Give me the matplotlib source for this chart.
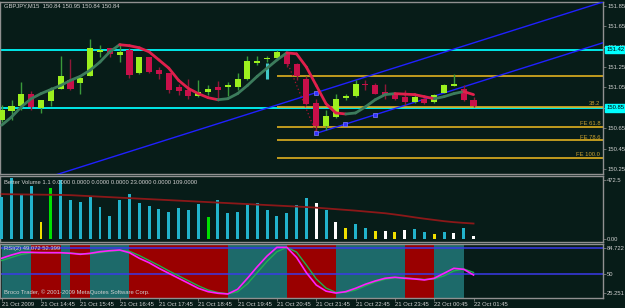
import matplotlib
matplotlib.use('Agg')
import matplotlib.pyplot as plt
import numpy as np

plt.rcParams['font.family'] = ['Liberation Sans', 'DejaVu Sans']

# ---------------- data ----------------
title_text = "GBPJPY,M15  150.84 150.95 150.84 150.84"
vol_title = "Better Volume 1.1 0.0000 0.0000 0.0000 0.0000 23.0000 0.0000 109.0000"
rsi_title = "RSI(2) 49.072 52.399"
copyright_text = "Broco Trader, \u00a9 2001-2009 MetaQuotes Software Corp."

opens = [150.73, 150.82, 150.87, 150.99, 150.85, 150.92, 151.04, 151.12, 151.09, 151.16,
         151.40, 151.44, 151.37, 151.42, 151.19, 151.35, 151.22, 151.19, 151.05, 151.03,
         150.97, 151.01, 151.05, 151.05, 151.05, 151.13, 151.29, 151.33, 151.34, 151.39,
         151.28, 151.13, 150.90, 150.67, 150.76, 150.95, 150.97, 151.08, 151.07, 151.01,
         150.99, 150.96, 150.91, 150.94, 150.91, 151.00, 151.06, 151.04, 150.93]
highs = [150.88, 150.93, 151.10, 151.02, 150.93, 151.05, 151.36, 151.33, 151.17, 151.53,
         151.47, 151.44, 151.49, 151.44, 151.35, 151.35, 151.25, 151.19, 151.08, 151.13,
         151.12, 151.07, 151.11, 151.10, 151.19, 151.36, 151.36, 151.36, 151.42, 151.40,
         151.29, 151.16, 150.94, 150.83, 150.99, 150.99, 151.12, 151.12, 151.09, 151.08,
         151.00, 151.03, 151.00, 150.97, 150.99, 151.08, 151.18, 151.07, 150.96]
lows = [150.71, 150.73, 150.83, 150.83, 150.80, 150.87, 151.04, 151.03, 150.99, 151.16,
        151.35, 151.35, 151.30, 151.14, 151.18, 151.19, 151.13, 151.00, 150.98, 150.94,
        150.96, 150.98, 150.92, 150.97, 151.03, 151.12, 151.27, 151.30, 151.32, 151.25,
        151.12, 150.88, 150.60, 150.63, 150.75, 150.93, 150.96, 151.03, 150.99, 150.94,
        150.93, 150.88, 150.90, 150.89, 150.90, 151.00, 151.06, 150.92, 150.86]
closes = [150.83, 150.87, 150.99, 150.86, 150.93, 151.04, 151.16, 151.04, 151.14, 151.44,
          151.42, 151.38, 151.40, 151.17, 151.35, 151.20, 151.18, 151.03, 151.02, 150.97,
          151.01, 151.04, 151.03, 151.07, 151.13, 151.31, 151.31, 151.33, 151.40, 151.28,
          151.16, 150.89, 150.67, 150.77, 150.94, 150.97, 151.08, 151.07, 150.99, 150.98,
          150.94, 150.91, 150.96, 150.90, 150.98, 151.07, 151.08, 150.93, 150.87]
spike_bar = 27
spike_range = [151.13, 151.29]

ma_line = [150.68, 150.76, 150.86, 150.94, 150.99, 151.03, 151.07, 151.12, 151.16, 151.22,
           151.30, 151.40, 151.47, 151.46, 151.44, 151.40, 151.32, 151.24, 151.12, 151.04,
           150.99, 150.95, 150.93, 150.94, 150.99, 151.07, 151.16, 151.24, 151.32, 151.39,
           151.38, 151.25, 151.07, 150.89, 150.80, 150.79, 150.80, 150.86, 150.93, 150.98,
           150.99, 150.985, 150.98, 150.96, 150.94, 150.96, 150.99, 151.01, 150.98]

cyan_levels = [151.42, 150.85]
cyan_labels = ["151.42", "150.85"]
fib_start = 28
fib_levels = [151.16, 150.86, 150.66, 150.53, 150.36]
fib_labels = ["", "38.2", "FE 61.8", "FE 78.6", "FE 100.0"]

upper_trend = [(32, 151.00), (61.2, 151.89)]
lower_trend = [(32, 150.60), (61.2, 151.49)]
trend_dots = [(32, 151.00), (32, 150.60), (34.9, 150.69), (38, 150.78)]
zigzag = [(29, 151.31), (32, 150.60)]

price_ticks = [151.85, 151.65, 151.45, 151.25, 151.05, 150.85, 150.65, 150.45, 150.25]

volumes = [338, 486, 351, 424, 136, 410, 472, 311, 292, 333,
           257, 182, 311, 357, 284, 263, 236, 216, 244, 228,
           281, 174, 311, 204, 214, 276, 284, 230, 182, 204,
           268, 325, 284, 229, 136, 82, 115, 87, 63, 58,
           50, 69, 74, 53, 39, 53, 47, 82, 23]
vol_types = "nnnnygnnnn" "nnnnnnnnnn" "ngnnnnnnnn" "nnwnwynnyw" "ywnnynwnw"
vol_avg = [359, 357, 356, 355, 354, 353, 352, 350, 346, 342,
           338, 334, 330, 326, 322, 318, 314, 310, 306, 302,
           298, 294, 290, 286, 282, 278, 274, 270, 266, 262,
           258, 254, 249, 243, 237, 231, 225, 218, 211, 204,
           194, 183, 171, 160, 150, 140, 132, 126, 121]
vol_ticks = [472.5, 0.0]
vol_tick_labels = ["472.5", "0.00"]

rsi = [70.9, 75.2, 78.7, 78.7, 78.2, 78.2, 78.2, 77.4, 76.1, 77.4,
       79.5, 80.8, 81.7, 78.2, 70.9, 65.1, 57.8, 51.3, 44.8, 38.3,
       31.7, 27.3, 25.2, 24.3, 30.4, 44.8, 59.9, 73.9, 85.2, 85.2,
       72.0, 52.0, 36.0, 28.0, 25.5, 27.3, 31.7, 37.0, 41.3, 44.8,
       46.1, 44.8, 43.9, 42.6, 44.8, 51.3, 57.8, 56.5, 49.1]
rsi_signal = [68, 72, 76, 78, 78.5, 78.3, 78.2, 77.8, 76.8, 76.8,
              78.4, 80.1, 81.2, 80, 74.5, 68, 61.5, 54.5, 48, 41.5,
              35, 29.5, 26.2, 24.6, 27.3, 37.6, 52.3, 67, 79.5, 85.2,
              79, 62, 44, 32, 26.3, 26.5, 29.5, 35, 40, 43.5,
              45.5, 45.4, 44.3, 43.2, 44, 48, 54.5, 57, 52.4]
rsi_zones = [(0, 3, 'up'), (3, 6, 'dn'), (6, 7, 'up'), (7, 9, 'dn'), (9, 13, 'up'),
             (13, 23, 'dn'), (23, 29, 'up'), (29, 34, 'dn'), (34, 41, 'up'),
             (41, 44, 'dn'), (44, 47, 'up')]
rsi_levels = [84.722, 50]
rsi_ticks = [84.722, 50, 25.251]
rsi_tick_labels = ["84.722", "50", "25.251"]

time_ticks = [0, 4, 8, 12, 16, 20, 24, 28, 32, 36, 40, 44, 48]
time_labels = ["21 Oct 2009", "21 Oct 14:45", "21 Oct 15:45", "21 Oct 16:45",
               "21 Oct 17:45", "21 Oct 18:45", "21 Oct 19:45", "21 Oct 20:45",
               "21 Oct 21:45", "21 Oct 22:45", "21 Oct 23:45", "22 Oct 00:45",
               "22 Oct 01:45"]

# ---------------- style ----------------
BG = '#071c18'
GRID = '#909090'
TXT = '#d0d0d0'
FS = 4.2
W, H = 625, 308

fig = plt.figure(figsize=(W / 100, H / 100), dpi=100, facecolor=BG)


def px_axes(x0, y0, x1, y1):
    return fig.add_axes([x0 / W, 1 - y1 / H, (x1 - x0) / W, (y1 - y0) / H], facecolor=BG)


ax = px_axes(0, 2, 603, 174)
axv = px_axes(0, 176, 603, 241.5)
axr = px_axes(0, 243.5, 603, 297.5)

XLIM = (-0.17, 61.17)
n = len(closes)
xs = np.arange(n)

for a in (ax, axv, axr):
    a.set_xlim(*XLIM)
    for s in a.spines.values():
        s.set_color(GRID)
        s.set_linewidth(1.0)
    a.yaxis.tick_right()
    a.tick_params(axis='y', length=2, width=0.5, pad=1, labelsize=FS,
                  labelcolor=TXT, color=GRID)
    a.tick_params(axis='x', length=0, labelbottom=False)

# ---------------- main price panel ----------------
ax.set_ylim(150.201, 151.889)
ax.set_yticks(price_ticks)
ax.set_yticklabels(["%.2f" % t for t in price_ticks])

# cyan horizontal lines
for lv in cyan_levels:
    ax.axhline(lv, color='#00e8e8', lw=1.4, zorder=2)

# fibo expansion lines
for lv, lb in zip(fib_levels, fib_labels):
    ax.hlines(lv, fib_start, XLIM[1], color='#e0b020', lw=1.2, zorder=2)
    if lb:
        ax.text(60.9, lv + 0.008, lb, ha='right', va='bottom', fontsize=FS,
                color='#c8a030', zorder=5)

# trend channel
ux = np.array([upper_trend[0][0], upper_trend[1][0]])
uy = np.array([upper_trend[0][1], upper_trend[1][1]])
slope = (uy[1] - uy[0]) / (ux[1] - ux[0])
ax.plot([0, XLIM[1]], [uy[0] + slope * (0 - ux[0]), uy[0] + slope * (XLIM[1] - ux[0])],
        color='#2020ff', lw=1.0, zorder=3)
ax.plot([lower_trend[0][0], lower_trend[1][0]], [lower_trend[0][1], lower_trend[1][1]],
        color='#2020ff', lw=1.0, zorder=3)
ax.plot([p[0] for p in trend_dots], [p[1] for p in trend_dots], 's', ms=2.2,
        mfc='#3030ff', mec='#8080ff', mew=0.5, zorder=6)
ax.plot([p[0] for p in zigzag], [p[1] for p in zigzag], ls=(0, (1, 2)),
        color='#b01030', lw=0.9, zorder=3)

# candles
o = np.array(opens); c = np.array(closes); h = np.array(highs); l = np.array(lows)
up = c >= o
wick_cols = np.where(up, '#3a9a3a', '#901838')
ax.vlines(xs, l, h, colors=wick_cols, lw=1.0, zorder=4)
body_bot = np.minimum(o, c)
body_h = np.maximum(np.abs(c - o), 0.006)
body_cols = np.where(up, '#9cf01e', '#c8104a')
ax.bar(xs, body_h, bottom=body_bot, width=0.62, color=body_cols, lw=0, zorder=5)
ax.vlines([spike_bar], spike_range[0], spike_range[1], colors='#40c8c8', lw=2.2, zorder=5)

# colored MA line
ma = np.array(ma_line)
for i in range(n - 1):
    col = '#3c7c5c' if ma[i + 1] >= ma[i] else '#e0204c'
    ax.plot([i, i + 1], [ma[i], ma[i + 1]], color=col, lw=2.0, zorder=6,
            solid_capstyle='round')

# boxed labels on the price scale
for lv, lb in zip(cyan_levels, cyan_labels):
    ax.annotate(lb, xy=(1.0, lv), xycoords=('axes fraction', 'data'),
                xytext=(2.2, 0), textcoords='offset points', ha='left', va='center',
                fontsize=FS, color='black', annotation_clip=False, zorder=10,
                bbox=dict(boxstyle='square,pad=0.2', fc='#00ffff', ec='#00ffff'))

fig.text(4 / W, 1 - 6 / H, title_text, fontsize=FS, color=TXT, va='center', ha='left')

# ---------------- volume panel ----------------
axv.set_ylim(-24.2, 504.8)
axv.set_yticks(vol_ticks)
axv.set_yticklabels(vol_tick_labels)
type_colors = {'n': '#22b4cc', 'y': '#f0e000', 'g': '#00e000', 'w': '#ffffff'}
axv.bar(xs, volumes, width=0.3, color=[type_colors[t] for t in vol_types], lw=0, zorder=3)
axv.plot(xs, vol_avg, color='#8b1818', lw=1.3, zorder=4)
axv.text(4 / 603, 0.908, vol_title, transform=axv.transAxes, fontsize=FS, color=TXT,
         va='center', ha='left')

# ---------------- RSI panel ----------------
axr.set_ylim(19.7, 90.2)
zone_colors = {'up': '#1d6a6a', 'dn': '#9a0000'}
for a0, a1, z in rsi_zones:
    axr.axvspan(a0, a1, color=zone_colors[z], lw=0, zorder=1)
for lv in rsi_levels:
    axr.axhline(lv, color='#3a3ae8', lw=1.1, zorder=2)
axr.plot(xs, rsi_signal, color='#20b050', lw=1.0, zorder=3)
axr.plot(xs, rsi, color='#ff20ff', lw=1.2, zorder=4)
axr.set_yticks(rsi_ticks)
axr.set_yticklabels(rsi_tick_labels)
axr.text(4 / 603, 0.90, rsi_title, transform=axr.transAxes, fontsize=FS, color=TXT,
         va='center', ha='left', zorder=6)
axr.text(4 / 603, 0.10, copyright_text, transform=axr.transAxes, fontsize=FS, color=TXT,
         va='center', ha='left', zorder=6)

axr.set_xticks(time_ticks)
axr.set_xticklabels(time_labels)
axr.tick_params(axis='x', length=2, width=0.5, color=GRID, pad=1, labelsize=FS,
                labelcolor=TXT, labelbottom=True)
for t in axr.get_xticklabels():
    t.set_horizontalalignment('left')

fig.savefig('out.png', dpi=100, facecolor=BG)
